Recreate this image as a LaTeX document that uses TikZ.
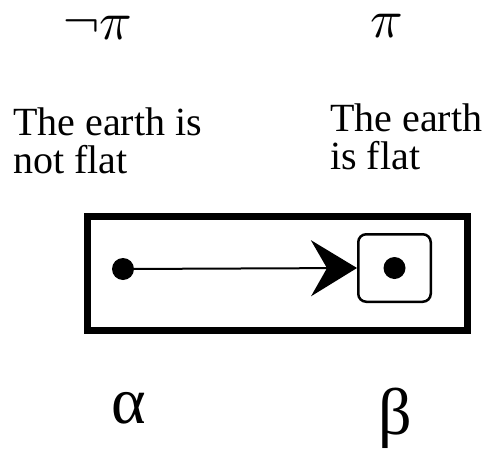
\documentclass[tikz,border=0pt]{standalone}
\usepackage{fontspec}
\usepackage{unicode-math}
\setmainfont{Liberation Serif}
\setmathfont{Latin Modern Math}
\usetikzlibrary{arrows.meta,positioning}
\tikzset{
  worlddot/.style={circle, fill=black, inner sep=0pt, minimum size=22pt},
  label/.style={font=\fontsize{40}{38}\selectfont, align=left, inner sep=0pt},
  greek/.style={font=\fontsize{54}{54}\selectfont, inner sep=0pt, anchor=base, text height=24pt, text depth=2pt},
  worldname/.style={font=\fontsize{66}{66}\selectfont, inner sep=0pt}
}
\begin{document}
\begin{tikzpicture}[x=1pt, y=-1pt]
  \useasboundingbox (0,0) rectangle (482,450);

  % Propositions on top
  \node[greek] (negpi) at (98, 39) {$\neg\pi$};
  \node[greek] (pi) at (387, 37) {$\pi$};

  % What they say
  \node[label, anchor=north west] (nflat) at (13, 108) {The earth is\\not flat};
  \node[label, anchor=north west] (flat) at (330, 104) {The earth\\is flat};

  % The frame and its worlds
  \node[draw, line width=7pt, minimum width=380pt, minimum height=114pt] (frame) at (277.5, 273.5) {};
  \node[draw, line width=2.5pt, rounded corners=8pt, minimum width=72.5pt, minimum height=67.5pt] (box) at (394.5, 268) {};
  \node[worlddot] (a) at (123, 269) {};
  \node[worlddot] (b) at (box.center) {};

  % Accessibility
  \draw[line width=2pt, -{Stealth[length=46pt, width=56pt, inset=16pt]}] (a) -- (box.west);

  % World names below
  \node[worldname] (alpha) at (129, 408) {α};
  \node[worldname] (beta) at (395, 418) {β};
\end{tikzpicture}
\end{document}
